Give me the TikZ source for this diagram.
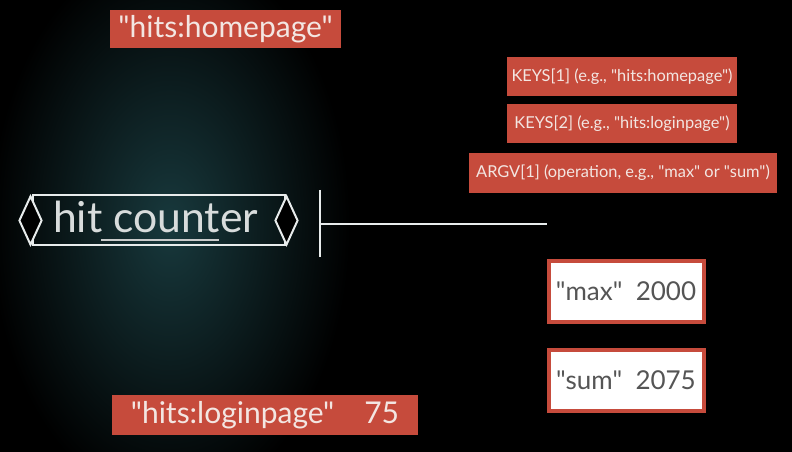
\documentclass[tikz,border=0pt]{standalone}
\usepackage{fontspec}
\setmainfont{Lato}[Ligatures=TeXOff]
\usetikzlibrary{shapes.geometric}
\definecolor{boxred}{HTML}{C64B3C}
\definecolor{txtw}{HTML}{F3E6E2}
\definecolor{txtg}{HTML}{555555}
\definecolor{glow}{HTML}{18393D}
\definecolor{linew}{HTML}{E8ECEC}
\newcommand{\dq}{\symbol{34}}
\tikzset{
  redbox/.style={fill=boxred, draw=none, inner sep=0pt, text=txtw},
  whitebox/.style={fill=white, draw=boxred, line width=3pt, inner sep=0pt, text=txtg},
  wline/.style={draw=linew, line width=1.5pt},
}
\begin{document}
\begin{tikzpicture}[x=0.75pt,y=-0.75pt]
\useasboundingbox (0,0) rectangle (792,452);
\fill[black] (0,0) rectangle (792,452);
\shade[inner color=glow, outer color=black] (170,225) ellipse (180 and 280);
% top red box
\node[redbox, minimum width=231*0.75pt, minimum height=38*0.75pt, font=\fontsize{22.5}{24}\selectfont] (home) at (225.5,29) {\dq hits:homepage\dq};
% right red boxes
\node[redbox, minimum width=230*0.75pt, minimum height=39*0.75pt, font=\fontsize{12.3}{14}\selectfont] (k1) at (622,76.5) {KEYS[1] (e.g., \dq hits:homepage\dq)};
\node[redbox, minimum width=230*0.75pt, minimum height=39*0.75pt, font=\fontsize{12.3}{14}\selectfont] (k2) at (622,123.5) {KEYS[2] (e.g., \dq hits:loginpage\dq)};
\node[redbox, minimum width=308*0.75pt, minimum height=40*0.75pt, font=\fontsize{12.3}{14}\selectfont] (argv) at (623,173) {ARGV[1] (operation, e.g., \dq max\dq{} or \dq sum\dq)};
% white boxes
\node[whitebox, minimum width=155*0.75pt, minimum height=61*0.75pt, font=\fontsize{19.5}{21}\selectfont] (max) at (626,291.5) {\dq max\dq\ \ 2000};
\node[whitebox, minimum width=155*0.75pt, minimum height=61*0.75pt, font=\fontsize{19.5}{21}\selectfont] (sum) at (626,380) {\dq sum\dq\ \ 2075};
% bottom red box
\node[redbox, minimum width=306*0.75pt, minimum height=40*0.75pt, font=\fontsize{22.5}{24}\selectfont] (login) at (265,415) {\dq hits:loginpage\dq\hspace{1.0em}75};
% hit counter
\node[draw=linew, line width=1.5pt, minimum width=252*0.75pt, minimum height=50*0.75pt, inner sep=0pt] (hc) at (159,220) {};
\node[text=linew!85!gray, font=\fontsize{32}{34}\selectfont, anchor=base] (hct) at (155.5,233) {hit counter};
\node[diamond, draw=linew, line width=1.5pt, fill=black, minimum width=23*0.75pt, minimum height=49*0.75pt, inner sep=0pt, aspect=0.47] (dl) at (30.5,220.5) {};
\node[diamond, draw=linew, line width=1.5pt, fill=black, minimum width=23*0.75pt, minimum height=49*0.75pt, inner sep=0pt, aspect=0.47] (dr) at (286.5,220.5) {};
\coordinate (u1) at (101,240);
\coordinate (u2) at (219,240);
\draw[draw=linew!70!gray, line width=2pt] (u1) -- (u2);
% bar and line
\coordinate (vt) at (320,190);
\coordinate (vb) at (320,257);
\coordinate (hl) at (320,224);
\coordinate (hr) at (547,224);
\draw[wline] (vt) -- (vb);
\draw[wline] (hl) -- (hr);
\end{tikzpicture}
\end{document}
